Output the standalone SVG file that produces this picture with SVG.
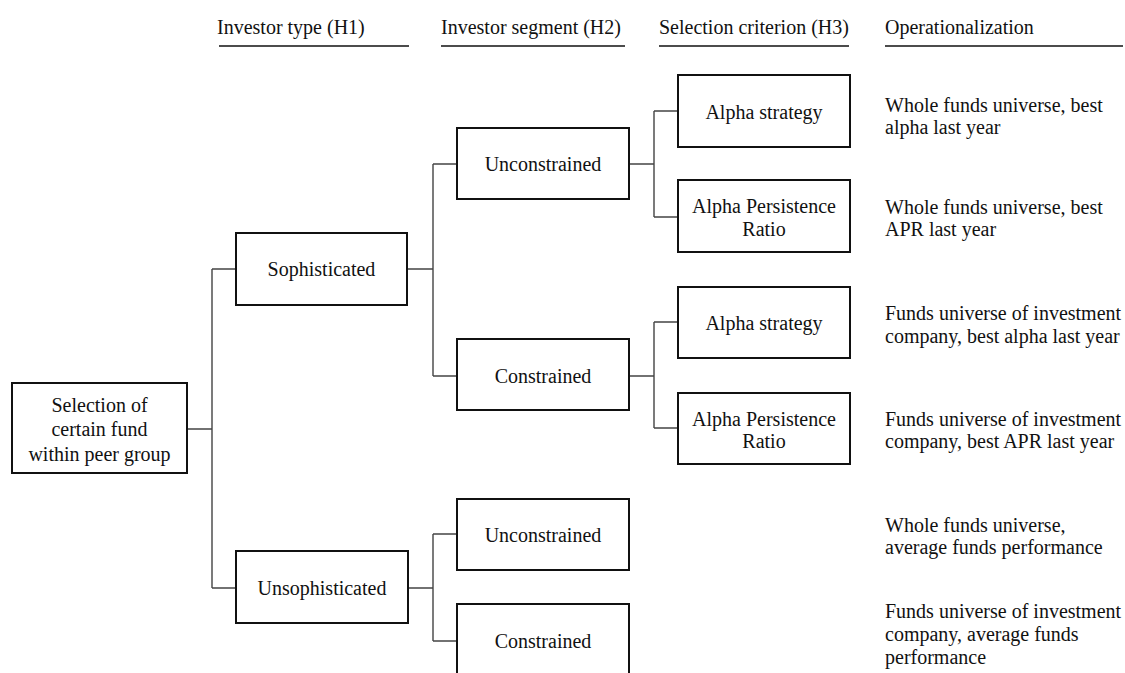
<svg xmlns="http://www.w3.org/2000/svg" width="1125" height="673" viewBox="0 0 1125 673">
<style>
text{font-family:"Liberation Serif","Times New Roman",serif;font-size:20px;fill:#111}
.c{text-anchor:middle}
.box{fill:#fff;stroke:#111;stroke-width:2}
.hl{stroke:#111;stroke-width:1.6}
.con{fill:none;stroke:#444;stroke-width:1.4}
</style>
<rect width="1125" height="673" fill="#fff"/>
<g id="headers">
<text x="217" y="34">Investor type (H1)</text>
<line class="hl" x1="219" y1="46" x2="409" y2="46"/>
<text x="441" y="34">Investor segment (H2)</text>
<line class="hl" x1="441" y1="46" x2="625" y2="46"/>
<text x="659" y="34">Selection criterion (H3)</text>
<line class="hl" x1="659" y1="46" x2="849" y2="46"/>
<text x="885" y="34">Operationalization</text>
<line class="hl" x1="885" y1="46" x2="1123" y2="46"/>
</g>
<g id="connectors">
<path class="con" d="M187 429H212M212 269V588M212 269H236M212 588H236"/>
<path class="con" d="M407 269H433M433 164V376M433 164H457M433 376H457"/>
<path class="con" d="M629 164H654M654 111V217M654 111H678M654 217H678"/>
<path class="con" d="M629 376H654M654 322V428M654 322H678M654 428H678"/>
<path class="con" d="M408 588H433M433 534V641M433 534H457M433 641H457"/>
</g>
<g id="root">
<rect class="box" x="12" y="383" width="175" height="90"/>
<text class="c" x="99.5" y="412">Selection of</text>
<text class="c" x="99.5" y="436">certain fund</text>
<text class="c" x="99.5" y="461">within peer group</text>
</g>
<g id="sophisticated">
<rect class="box" x="236" y="233" width="171" height="72"/>
<text class="c" x="321.5" y="276">Sophisticated</text>
</g>
<g id="unsophisticated">
<rect class="box" x="236" y="551" width="172" height="72"/>
<text class="c" x="322" y="595">Unsophisticated</text>
</g>
<g id="unconstrained1">
<rect class="box" x="457" y="128" width="172" height="71"/>
<text class="c" x="543" y="171">Unconstrained</text>
</g>
<g id="constrained1">
<rect class="box" x="457" y="339" width="172" height="71"/>
<text class="c" x="543" y="383">Constrained</text>
</g>
<g id="unconstrained2">
<rect class="box" x="457" y="499" width="172" height="71"/>
<text class="c" x="543" y="542">Unconstrained</text>
</g>
<g id="constrained2">
<rect class="box" x="457" y="604" width="172" height="72"/>
<text class="c" x="543" y="648">Constrained</text>
</g>
<g id="alpha1">
<rect class="box" x="678" y="75" width="172" height="72"/>
<text class="c" x="764" y="119">Alpha strategy</text>
</g>
<g id="apr1">
<rect class="box" x="678" y="180" width="172" height="72"/>
<text class="c" x="764" y="213">Alpha Persistence</text>
<text class="c" x="764" y="236">Ratio</text>
</g>
<g id="alpha2">
<rect class="box" x="678" y="287" width="172" height="71"/>
<text class="c" x="764" y="330">Alpha strategy</text>
</g>
<g id="apr2">
<rect class="box" x="678" y="393" width="172" height="71"/>
<text class="c" x="764" y="426">Alpha Persistence</text>
<text class="c" x="764" y="448">Ratio</text>
</g>
<g id="operationalization">
<text x="885" y="112">Whole funds universe, best</text>
<text x="885" y="134">alpha last year</text>
<text x="885" y="214">Whole funds universe, best</text>
<text x="885" y="236">APR last year</text>
<text x="885" y="320">Funds universe of investment</text>
<text x="885" y="343">company, best alpha last year</text>
<text x="885" y="426">Funds universe of investment</text>
<text x="885" y="448">company, best APR last year</text>
<text x="885" y="532">Whole funds universe,</text>
<text x="885" y="554">average funds performance</text>
<text x="885" y="618">Funds universe of investment</text>
<text x="885" y="641">company, average funds</text>
<text x="885" y="664">performance</text>
</g>
</svg>
